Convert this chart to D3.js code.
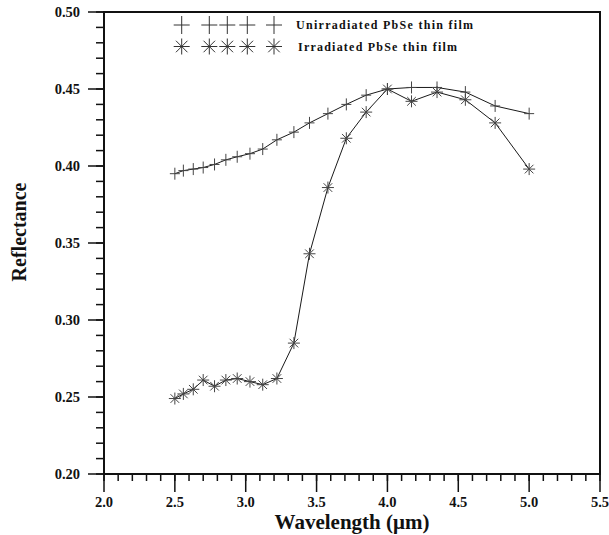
<!DOCTYPE html>
<html>
<head>
<meta charset="utf-8">
<style>
  body { margin: 0; background: #fff; }
  svg text { font-family: "Liberation Serif", "DejaVu Serif", serif; font-weight: bold; fill: #111; }
</style>
</head>
<body>
<script src="https://d3js.org/d3.v7.min.js"></script>
<script>
// wavelengths (um)
var wavelength = [2.50, 2.56, 2.63, 2.70, 2.78, 2.86, 2.94, 3.03, 3.12, 3.22, 3.34,
                  3.45, 3.58, 3.71, 3.85, 4.00, 4.17, 4.35, 4.55, 4.76, 5.00];
var unirradiated = [0.395, 0.397, 0.398, 0.399, 0.401, 0.404, 0.406, 0.408, 0.411, 0.417, 0.422,
                    0.428, 0.434, 0.440, 0.446, 0.450, 0.451, 0.451, 0.448, 0.439, 0.434];
var irradiated = [0.249, 0.252, 0.255, 0.261, 0.257, 0.261, 0.262, 0.260, 0.258, 0.262, 0.285,
                  0.343, 0.386, 0.418, 0.435, 0.450, 0.442, 0.448, 0.443, 0.428, 0.398];
var xTicks = [2.0, 2.5, 3.0, 3.5, 4.0, 4.5, 5.0, 5.5];
var yTicks = [0.20, 0.25, 0.30, 0.35, 0.40, 0.45, 0.50];
var seriesNames = ["Unirradiated PbSe thin film", "Irradiated PbSe thin film"];

var width = 609, height = 535;
var padL = 104, padR = 600, padT = 12, padB = 474;

var x = d3.scaleLinear().domain([2, 5.5]).range([padL, padR]);
var y = d3.scaleLinear().domain([0.2, 0.5]).range([padB, padT]);

var svg = d3.select("body").append("svg")
    .attr("width", width)
    .attr("height", height);

function plusPath(r) {
  return "M" + (-r) + ",0H" + r + "M0," + (-r - 1) + "V" + (r + 1);
}
function starPath(r) {
  var d = r * 0.72;
  return "M" + (-r) + ",0H" + r + "M0," + (-r) + "V" + r +
         "M" + (-d) + "," + (-d) + "L" + d + "," + d +
         "M" + (-d) + "," + d + "L" + d + "," + (-d);
}

// minor ticks
var xMinor = d3.range(2, 5.5001, 0.1);
var yMinor = d3.range(0.2, 0.5001, 0.01);

var axisG = svg.append("g").attr("stroke", "#111").attr("fill", "none");

axisG.selectAll(".xm").data(xMinor).enter().append("line")
    .attr("x1", function(d) { return x(d); }).attr("x2", function(d) { return x(d); })
    .attr("y1", padB).attr("y2", padB + 7).attr("stroke-width", 1.5);
axisG.selectAll(".xM").data(xTicks).enter().append("line")
    .attr("x1", function(d) { return x(d); }).attr("x2", function(d) { return x(d); })
    .attr("y1", padB).attr("y2", padB + 18).attr("stroke-width", 1.5);

axisG.selectAll(".ym").data(yMinor).enter().append("line")
    .attr("y1", function(d) { return y(d); }).attr("y2", function(d) { return y(d); })
    .attr("x1", padL - 8).attr("x2", padL).attr("stroke-width", 1.5);
axisG.selectAll(".yM").data(yTicks).enter().append("line")
    .attr("y1", function(d) { return y(d); }).attr("y2", function(d) { return y(d); })
    .attr("x1", padL - 16).attr("x2", padL).attr("stroke-width", 1.5);

// frame
axisG.append("rect")
    .attr("x", padL).attr("y", padT)
    .attr("width", padR - padL).attr("height", padB - padT)
    .attr("stroke-width", 2);

// tick labels
svg.selectAll(".xl").data(xTicks).enter().append("text")
    .attr("x", function(d) { return x(d); })
    .attr("y", padB + 33)
    .attr("text-anchor", "middle")
    .style("font-size", "14.5px")
    .text(function(d) { return d.toFixed(1); });

svg.selectAll(".yl").data(yTicks).enter().append("text")
    .attr("x", padL - 24)
    .attr("y", function(d) { return y(d) + 5; })
    .attr("text-anchor", "end")
    .style("font-size", "14.5px")
    .text(function(d) { return d.toFixed(2); });

// axis titles
svg.append("text")
    .attr("x", 352).attr("y", 529)
    .attr("text-anchor", "middle")
    .style("font-size", "21px")
    .text("Wavelength (\u03bcm)");

svg.append("text")
    .attr("transform", "translate(26,232) rotate(-90)")
    .attr("text-anchor", "middle")
    .style("font-size", "20px")
    .text("Reflectance");

// lines
var line = d3.line()
    .x(function(d) { return x(d[0]); })
    .y(function(d) { return y(d[1]); });

var sets = [
  { vals: d3.zip(wavelength, unirradiated), path: plusPath(5), leg: plusPath(8) },
  { vals: d3.zip(wavelength, irradiated), path: starPath(6), leg: starPath(8) }
];

sets.forEach(function(s) {
  svg.append("path")
      .attr("d", line(s.vals))
      .attr("fill", "none")
      .attr("stroke", "#1a1a1a")
      .attr("stroke-width", 1);
  svg.append("g").selectAll("path").data(s.vals).enter().append("path")
      .attr("transform", function(d) { return "translate(" + x(d[0]) + "," + y(d[1]) + ")"; })
      .attr("d", s.path)
      .attr("fill", "none")
      .attr("stroke", "#444")
      .attr("stroke-width", 1);
});

// legend
var legendX = [181.7, 209.3, 227.3, 247.3, 274];
var legendY = [25, 46.5];
var legendText = [{ x: 296, w: 177 }, { x: 298, w: 159 }];

sets.forEach(function(s, i) {
  svg.append("g").selectAll("path").data(legendX).enter().append("path")
      .attr("transform", function(d) { return "translate(" + d + "," + legendY[i] + ")"; })
      .attr("d", s.leg)
      .attr("fill", "none")
      .attr("stroke", "#333")
      .attr("stroke-width", 1);
  svg.append("text")
      .attr("x", legendText[i].x)
      .attr("y", legendY[i] + 4)
      .attr("textLength", legendText[i].w)
      .attr("lengthAdjust", "spacing")
      .style("font-size", "12px")
      .text(seriesNames[i]);
});
</script>
</body>
</html>
